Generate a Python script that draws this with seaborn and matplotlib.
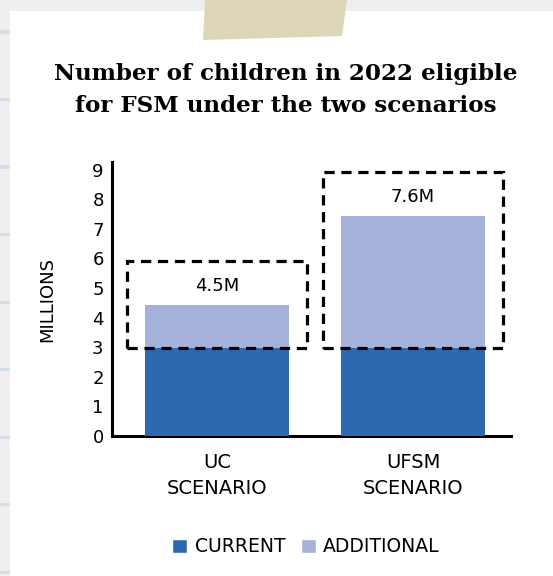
import matplotlib

matplotlib.use('Agg')

import matplotlib.pyplot as plt
import numpy as np
import pandas as pd
import seaborn as sns
from matplotlib.patches import Polygon, Rectangle, Patch

# chart values (millions of children)
scenarios = ["UC\nSCENARIO", "UFSM\nSCENARIO"]
current = [2.97, 2.97]
additional = [1.46, 4.46]
total_labels = ["4.5M", "7.6M"]
y_ticks = [0, 1, 2, 3, 4, 5, 6, 7, 8, 9]

DARK_BLUE = "#2e68b0"
LIGHT_BLUE = "#a6b2da"

df = pd.DataFrame({"scenario": scenarios, "current": current, "additional": additional})
df["total"] = df["current"] + df["additional"]

sns.set_theme(style="white")
plt.rcParams["font.family"] = ["DejaVu Sans"]
plt.rcParams["text.color"] = "black"

fig = plt.figure(figsize=(5.53, 5.76), dpi=100, facecolor="#efeff1")

# paper card + notebook lines on the left margin
fig.patches.append(Rectangle((10 / 553, 0), 1, 1 - 11 / 576, transform=fig.transFigure,
                             facecolor="white", edgecolor="none", zorder=-3))
for ly in np.arange(32, 576, 67.5):
    fig.patches.append(Rectangle((0, 1 - (ly + 1.5) / 576), 10 / 553, 3 / 576,
                                 transform=fig.transFigure, facecolor="#d3e0ea",
                                 edgecolor="none", zorder=-2))
# tape
tape = [(205, 0), (347, 0), (342, 36), (203, 40)]
fig.patches.append(Polygon([(x / 553, 1 - y / 576) for x, y in tape], closed=True,
                           transform=fig.transFigure, facecolor="#ddd6b9",
                           edgecolor="none", zorder=-1))

fig.text(0.516, 1 - 90 / 576, "Number of children in 2022 eligible\nfor FSM under the two scenarios",
         ha="center", va="center", fontsize=16.6, fontweight="heavy", family="DejaVu Serif",
         linespacing=1.55, color="black")

ax = fig.add_axes([112 / 553, 1 - 436 / 576, 399 / 553, 274 / 576])
ax.set_facecolor("none")
ax.set_zorder(2)

sns.barplot(data=df, x="scenario", y="total", color=LIGHT_BLUE, saturation=1,
            width=0.735, ax=ax, zorder=2, linewidth=0)
sns.barplot(data=df, x="scenario", y="current", color=DARK_BLUE, saturation=1,
            width=0.735, ax=ax, zorder=3, linewidth=0)

# dashed boxes around the additional part + total labels
for i, row in df.iterrows():
    ax.add_patch(Rectangle((i - 0.46, row["current"]), 0.92, row["additional"] + 1.5,
                           fill=False, edgecolor="black", lw=2.3, linestyle=(0, (3.2, 2.1)),
                           zorder=4, clip_on=False))
    ax.text(i, row["total"] + 0.65, total_labels[i], ha="center", va="center",
            fontsize=13, color="black")

ax.set_xlim(-0.536, 1.5)
ax.set_ylim(0, 9.26)
ax.set_yticks(y_ticks)
ax.set_xlabel("")
ax.set_ylabel("MILLIONS", fontsize=13, labelpad=26, color="black")
ax.tick_params(axis="both", length=0, labelsize=13, colors="black")
ax.tick_params(axis="y", pad=6)
ax.tick_params(axis="x", pad=12)
for lab in ax.get_xticklabels():
    lab.set_fontsize(14)
    lab.set_linespacing(1.5)

sns.despine(ax=ax)
for side in ["left", "bottom"]:
    ax.spines[side].set_linewidth(2.2)
    ax.spines[side].set_color("black")

handles = [Patch(facecolor=DARK_BLUE, label="CURRENT"),
           Patch(facecolor=LIGHT_BLUE, label="ADDITIONAL")]
fig.legend(handles=handles, loc="center", bbox_to_anchor=(306 / 553, 1 - 547 / 576), ncol=2,
           frameon=False, fontsize=13.5, handlelength=0.8, handleheight=0.8,
           handletextpad=0.4, columnspacing=0.8, labelcolor="black")

fig.savefig("out.png", dpi=100, facecolor=fig.get_facecolor())
